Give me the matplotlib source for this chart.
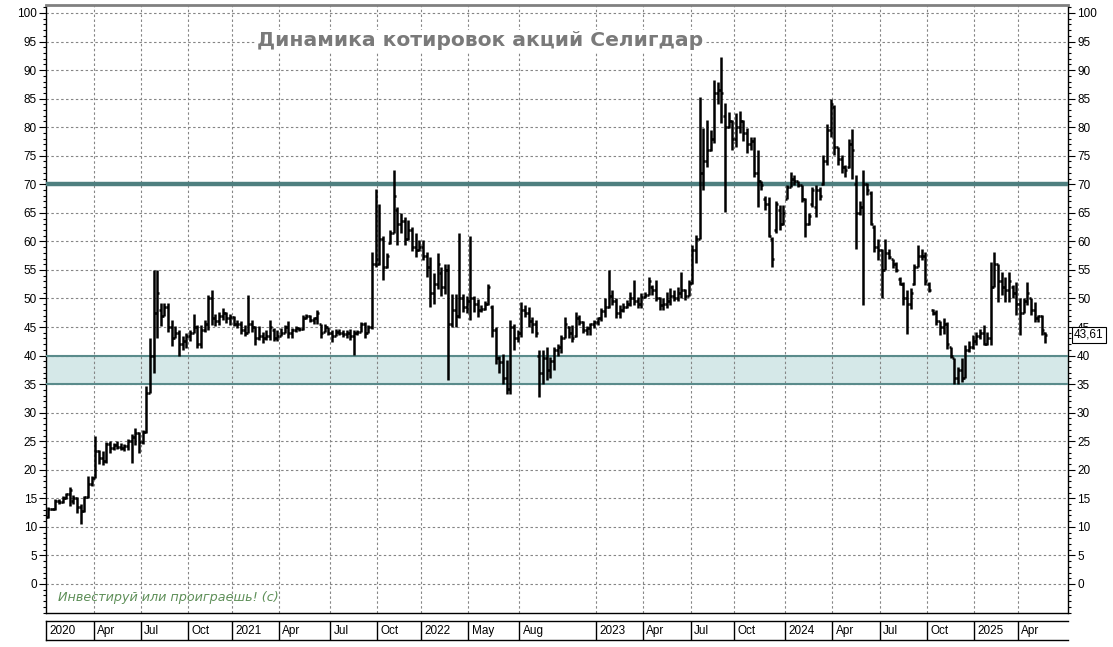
import matplotlib
matplotlib.use('Agg')
import matplotlib.pyplot as plt
import matplotlib.transforms as mtransforms
from matplotlib.ticker import MultipleLocator
import numpy as np

# Недельные бары (open, high, low, close), янв 2020 - апр 2025
opens = [
    11.8, 13.2, 13.1, 14.6, 14.3, 15.1, 15.8, 14.5, 15.0, 13.5, 12.8, 15.2, 17.5,
    18.6, 23.3, 22.0, 21.6, 24.5, 23.8, 24.3, 24.0, 23.8, 24.2, 25.0, 25.8, 26.5,
    24.8, 26.6, 33.5, 40.0, 47.5, 48.0, 47.0, 48.5, 45.0, 43.0, 44.0, 42.0, 42.5,
    43.5, 44.0, 45.0, 42.0, 44.5, 45.5, 50.0, 46.5, 46.0, 47.0, 47.5, 46.5, 46.8,
    45.5, 45.5, 44.5, 44.0, 45.5, 45.0, 43.0, 43.5, 43.0, 43.5, 44.5, 43.0, 43.5,
    44.0, 45.0, 44.0, 44.5, 44.8, 44.6, 46.5, 47.0, 46.2, 46.5, 45.5, 44.2, 45.0,
    44.0, 43.5, 44.2, 44.0, 43.8, 44.0, 43.5, 44.0, 44.2, 45.5, 44.0, 45.0, 56.0,
    56.0, 60.5, 55.5, 59.8, 61.5, 65.5, 63.0, 63.5, 60.5, 62.0, 59.0, 58.5, 59.0,
    57.5, 55.5, 51.0, 52.5, 54.5, 52.0, 55.0, 45.5, 48.0, 47.0, 50.0, 48.5, 49.5,
    50.0, 49.0, 48.0, 48.2, 49.0, 48.5, 44.5, 39.5, 38.8, 36.0, 34.2, 45.0, 43.0,
    44.0, 48.0, 47.5, 46.0, 45.5, 40.0, 37.0, 39.5, 37.5, 39.0, 41.0, 41.5, 43.0,
    45.0, 44.0, 43.5, 46.5, 45.8, 44.5, 44.8, 45.5, 45.8, 46.5, 47.8, 48.5, 50.5,
    49.5, 47.5, 48.0, 48.5, 49.0, 50.0, 49.5, 49.0, 50.3, 50.6, 52.0, 51.5, 50.0,
    48.8, 49.0, 49.5, 50.5, 50.0, 51.0, 51.5, 50.5, 52.8, 58.5, 60.5, 72.0, 74.0,
    76.0, 78.0, 86.0, 86.5, 82.0, 80.0, 81.0, 78.0, 80.0, 81.0, 79.0, 77.0, 77.5,
    72.0, 70.5, 67.5, 66.5, 60.5, 62.0, 65.5, 63.0, 67.5, 69.5, 71.0, 70.5, 69.8,
    67.5, 63.0, 66.5, 66.0, 69.0, 70.0, 74.0, 79.5, 83.5, 76.5, 74.5, 73.0, 73.0,
    77.0, 70.0, 65.0, 66.0, 70.0, 68.5, 62.5, 59.0, 58.5, 55.0, 58.0, 57.0, 56.0,
    53.5, 52.5, 50.0, 49.0, 52.5, 55.5, 57.5, 57.5, 52.5, 48.0, 47.5, 46.0, 45.0,
    45.5, 41.5, 39.5, 36.0, 37.5, 36.0, 41.0, 41.5, 42.5, 43.5, 44.0, 42.0, 43.0,
    52.0, 56.0, 53.0, 52.0, 51.5, 52.0, 51.0, 49.0, 47.5, 49.5, 50.0, 48.0, 46.5,
    47.0, 44.0,
]
highs = [
    13.4, 13.3, 14.8, 14.9, 15.4, 16.0, 16.9, 15.6, 15.2, 14.0, 15.4, 19.0, 18.9,
    25.9, 23.5, 23.3, 24.8, 25.0, 24.7, 25.0, 24.7, 24.5, 25.4, 26.3, 27.3, 26.6,
    26.9, 34.6, 43.1, 55.0, 55.0, 49.2, 49.2, 49.2, 46.3, 45.1, 44.5, 43.4, 44.0,
    44.5, 47.2, 45.4, 45.4, 46.3, 50.6, 51.5, 47.2, 47.7, 48.3, 47.7, 47.2, 46.9,
    46.3, 46.0, 45.4, 50.6, 46.3, 45.1, 45.1, 44.2, 44.5, 46.3, 44.8, 44.5, 44.8,
    45.4, 46.0, 44.8, 45.1, 45.0, 47.1, 47.3, 47.1, 46.8, 47.9, 45.6, 45.6, 45.0,
    44.4, 44.7, 44.7, 44.4, 44.4, 44.7, 44.4, 44.4, 45.9, 45.9, 45.3, 58.2, 69.2,
    66.6, 61.0, 58.0, 62.0, 72.5, 66.0, 65.0, 64.3, 63.7, 62.5, 61.4, 60.3, 60.3,
    58.1, 57.3, 54.4, 57.9, 55.5, 56.0, 56.0, 50.8, 50.8, 61.4, 50.8, 50.5, 61.0,
    50.5, 49.9, 48.8, 49.5, 52.6, 48.8, 45.0, 40.0, 40.3, 39.2, 46.2, 45.6, 44.5,
    49.4, 48.8, 48.5, 46.8, 46.2, 40.9, 40.9, 41.5, 39.8, 41.5, 42.0, 43.6, 46.8,
    45.1, 45.4, 47.7, 47.1, 46.0, 45.1, 45.7, 46.2, 46.8, 48.3, 50.0, 55.0, 51.5,
    50.0, 48.9, 49.2, 49.7, 51.2, 53.2, 50.3, 50.9, 51.2, 53.8, 52.4, 53.2, 50.3,
    50.0, 51.2, 51.8, 51.5, 52.1, 54.7, 51.6, 53.2, 59.4, 61.1, 85.3, 79.8, 81.2,
    79.5, 88.2, 88.0, 92.3, 84.2, 82.7, 81.2, 82.4, 82.9, 81.3, 79.8, 78.3, 78.3,
    76.0, 70.5, 68.0, 67.8, 60.8, 67.0, 66.4, 66.4, 69.9, 72.2, 71.6, 70.6, 69.8,
    67.6, 65.0, 69.6, 69.8, 69.5, 75.1, 80.6, 85.0, 83.8, 76.5, 75.1, 73.3, 78.0,
    79.7, 71.6, 67.0, 72.5, 70.2, 68.9, 62.8, 60.5, 58.7, 60.5, 58.7, 57.0, 56.4,
    53.8, 52.9, 51.5, 51.8, 56.1, 59.3, 58.7, 58.1, 52.9, 48.2, 47.9, 46.1, 46.5,
    45.9, 41.5, 39.5, 38.0, 39.5, 41.8, 42.5, 43.6, 44.1, 44.7, 45.3, 44.1, 56.4,
    58.1, 56.0, 54.6, 53.8, 54.6, 52.3, 52.9, 50.0, 50.0, 52.9, 50.0, 49.4, 47.1,
    47.1, 44.2,
]
lows = [
    11.6, 12.9, 13.0, 14.0, 14.2, 14.8, 13.7, 14.0, 12.5, 10.5, 12.6, 15.1, 17.2,
    18.5, 21.0, 20.9, 21.2, 23.0, 23.4, 23.6, 23.5, 23.3, 23.5, 21.2, 24.4, 23.0,
    24.6, 26.5, 33.5, 37.0, 43.1, 45.1, 47.0, 44.2, 41.6, 43.0, 39.9, 41.0, 41.3,
    42.5, 44.0, 41.3, 41.3, 44.2, 44.5, 45.4, 45.1, 45.4, 46.3, 45.7, 45.4, 45.1,
    44.8, 43.7, 43.4, 43.9, 44.2, 41.9, 42.8, 42.2, 42.8, 42.8, 42.5, 42.5, 43.4,
    43.9, 43.1, 43.1, 44.2, 44.3, 44.5, 46.4, 45.9, 45.6, 45.6, 43.0, 44.1, 43.6,
    42.4, 43.4, 43.6, 43.3, 43.0, 42.7, 40.1, 43.6, 44.1, 43.0, 44.0, 44.7, 55.5,
    55.8, 53.2, 55.4, 59.6, 61.5, 59.3, 61.5, 59.3, 60.3, 58.3, 57.3, 58.4, 56.8,
    53.8, 48.5, 49.0, 51.6, 50.5, 50.8, 35.7, 45.0, 45.0, 46.5, 47.7, 47.5, 46.2,
    47.7, 46.8, 47.7, 48.0, 48.8, 43.3, 38.6, 37.0, 35.0, 33.3, 33.3, 41.0, 42.3,
    43.3, 46.8, 45.0, 44.0, 43.3, 32.8, 35.0, 35.7, 36.0, 37.5, 40.0, 40.5, 43.0,
    43.0, 42.4, 43.3, 45.4, 43.9, 43.6, 43.6, 44.8, 45.4, 46.0, 46.8, 48.3, 48.9,
    46.5, 46.5, 47.7, 48.3, 48.6, 48.9, 48.3, 48.3, 50.0, 50.6, 50.6, 49.5, 48.0,
    48.0, 48.3, 48.9, 49.5, 49.5, 50.0, 49.7, 50.4, 52.5, 56.2, 60.5, 69.0, 73.1,
    75.8, 77.2, 84.0, 80.7, 65.2, 79.8, 76.0, 76.5, 79.0, 77.5, 75.5, 76.0, 71.3,
    66.0, 69.0, 65.5, 60.8, 55.6, 61.5, 62.0, 62.8, 67.5, 69.5, 69.9, 69.6, 66.9,
    60.8, 62.8, 66.0, 64.3, 67.2, 69.8, 73.3, 78.3, 75.1, 73.3, 71.9, 71.3, 72.8,
    71.0, 58.7, 64.6, 48.8, 68.1, 62.8, 58.1, 56.7, 50.0, 55.0, 57.0, 55.3, 54.6,
    52.3, 48.8, 43.8, 48.2, 52.3, 55.5, 56.7, 52.3, 51.1, 47.1, 45.3, 43.6, 43.8,
    41.2, 39.5, 35.1, 35.1, 35.4, 36.0, 40.6, 41.2, 41.8, 42.9, 41.8, 41.8, 41.8,
    52.0, 49.4, 50.6, 49.4, 49.4, 50.0, 47.1, 43.6, 47.5, 48.8, 47.1, 45.9, 45.9,
    43.6, 42.2,
]
closes = [
    13.2, 13.1, 14.6, 14.3, 15.1, 15.8, 16.5, 15.0, 13.5, 12.8, 15.2, 17.5, 18.6,
    23.3, 22.0, 21.6, 24.5, 23.8, 24.3, 24.0, 23.8, 24.2, 25.0, 25.8, 26.5, 24.8,
    26.6, 33.5, 40.0, 47.5, 51.0, 47.0, 48.5, 45.0, 43.0, 44.0, 42.0, 42.5, 43.5,
    44.0, 45.0, 42.0, 44.5, 45.5, 50.0, 46.5, 46.0, 47.0, 47.5, 46.5, 46.8, 45.5,
    45.5, 44.5, 44.0, 45.5, 45.0, 43.0, 43.5, 43.0, 43.5, 45.0, 43.0, 43.5, 44.0,
    45.0, 44.0, 44.5, 44.8, 44.6, 46.5, 47.0, 46.2, 46.5, 47.5, 44.0, 45.0, 44.0,
    43.5, 44.2, 44.0, 43.8, 44.0, 43.5, 44.0, 44.2, 45.5, 44.0, 45.0, 56.0, 57.0,
    60.5, 55.5, 57.5, 61.5, 68.0, 63.0, 63.5, 60.5, 62.0, 59.0, 58.5, 59.0, 57.5,
    55.5, 51.0, 52.5, 56.0, 52.0, 55.0, 45.5, 48.0, 47.0, 50.0, 48.5, 49.5, 50.0,
    49.0, 48.0, 48.2, 49.0, 52.0, 44.5, 39.5, 38.8, 36.0, 34.2, 45.0, 43.0, 44.0,
    48.0, 47.5, 46.0, 45.5, 44.0, 37.0, 39.5, 37.5, 39.0, 41.0, 41.5, 43.0, 45.5,
    44.0, 43.0, 46.5, 45.8, 44.5, 44.8, 45.5, 45.8, 46.5, 47.8, 48.5, 50.5, 49.5,
    47.5, 48.0, 48.5, 49.0, 50.0, 49.5, 49.0, 50.3, 50.6, 53.0, 51.5, 50.0, 48.8,
    49.0, 49.5, 50.5, 50.0, 51.0, 51.5, 50.5, 52.8, 58.5, 60.5, 72.0, 74.0, 76.0,
    78.0, 86.0, 86.5, 86.0, 80.0, 81.0, 78.0, 80.0, 81.0, 79.0, 77.0, 77.5, 72.0,
    70.5, 69.8, 66.5, 61.0, 57.0, 66.5, 63.0, 65.0, 69.5, 71.0, 70.5, 69.8, 67.5,
    63.0, 64.5, 69.0, 69.0, 68.0, 74.0, 79.5, 84.0, 76.5, 74.5, 73.0, 72.5, 77.0,
    76.0, 65.0, 66.0, 70.0, 69.0, 63.0, 59.0, 58.5, 55.0, 58.0, 57.3, 56.0, 55.0,
    52.5, 50.0, 49.0, 51.0, 55.5, 57.5, 57.5, 53.0, 51.5, 47.5, 46.0, 45.0, 45.5,
    42.0, 40.0, 36.0, 37.5, 36.0, 41.0, 41.5, 42.5, 43.5, 44.0, 42.0, 43.0, 52.0,
    56.0, 53.0, 52.0, 51.5, 53.0, 51.0, 49.0, 47.5, 49.5, 51.0, 48.0, 46.5, 47.0,
    44.5, 43.61,
]
assert len(opens) == len(highs) == len(lows) == len(closes)

# подписи оси времени и номер недели, с которой они начинаются
date_labels = ['2020', 'Apr', 'Jul', 'Oct', '2021', 'Apr', 'Jul', 'Oct',
               '2022', 'May', 'Aug', '2023', 'Apr', 'Jul', 'Oct',
               '2024', 'Apr', 'Jul', 'Oct', '2025', 'Apr']
date_weeks = [0, 13, 26, 39, 51, 64, 78, 91, 103, 116, 130, 151, 164, 177,
              189, 203, 216, 229, 242, 255, 267]

resistance = 70
support_zone = (35, 40)
last_price = 43.61

W, H = 1113, 647
fig = plt.figure(figsize=(W / 100, H / 100), dpi=100)
fig.patch.set_facecolor('white')
ax = fig.add_axes([46 / W, (H - 613) / H, 1022 / W, 608 / H])

x = np.arange(len(closes))
xlim = (-0.55, 280.2)
ax.set_xlim(*xlim)
ax.set_ylim(-5.08, 101.4)

# сетка
grid_kw = dict(color='#858585', lw=0.8, ls=(0, (2.2, 2.2)), zorder=2)
for v in range(0, 101, 5):
    ax.axhline(v, **grid_kw)
for w in date_weeks[1:]:
    ax.axvline(w - 0.5, **grid_kw)

# зона поддержки и уровень сопротивления
ax.axhspan(*support_zone, facecolor='#d5e8e8', edgecolor='none', zorder=1)
for v in support_zone:
    ax.axhline(v, color='#5a8b8b', lw=1.5, zorder=3)
ax.axhline(resistance, color='#4e7f7f', lw=3.2, zorder=3)

# бары OHLC
bar_kw = dict(color='black', lw=1.8, zorder=5)
ax.vlines(x, lows, highs, **bar_kw)
ax.hlines(opens, x - 0.55, x, **bar_kw)
ax.hlines(closes, x, x + 0.55, **bar_kw)

# оси
ax.set_xticks([])
ax.set_yticks(range(0, 101, 5))
ax.yaxis.set_minor_locator(MultipleLocator(1))
ax.tick_params(axis='y', which='both', left=True, right=True,
               labelleft=True, labelright=True, direction='out',
               labelsize=8.5, pad=1.5)
ax.tick_params(axis='y', which='major', length=5, width=0.8)
ax.tick_params(axis='y', which='minor', length=2.5, width=0.8)
for lab in ax.get_yticklabels():
    lab.set_family('Liberation Sans')
ax.spines['top'].set_color('#808080')
ax.spines['top'].set_linewidth(2)
for s in ['left', 'right', 'bottom']:
    ax.spines[s].set_color('black')
    ax.spines[s].set_linewidth(1)

# последняя цена (в оригинале плашка частично закрывает подпись 45)
trans = mtransforms.blended_transform_factory(ax.transAxes, ax.transData)
ax.text(1.006, last_price, '43,61', transform=trans, ha='left', va='center',
        fontsize=8.5, family='Liberation Sans', clip_on=False, zorder=10,
        bbox=dict(boxstyle='square,pad=0.2', fc='white', ec='black', lw=0.8))

# полоса с датами
ax2 = fig.add_axes([46 / W, (H - 640) / H, 1022 / W, 19 / H])
ax2.set_xlim(*xlim)
ax2.set_ylim(0, 1)
ax2.set_xticks([])
ax2.set_yticks([])
ax2.spines['right'].set_visible(False)
for s in ['top', 'bottom', 'left']:
    ax2.spines[s].set_linewidth(1)
for lab, w in zip(date_labels, date_weeks):
    if w > 0:
        ax2.axvline(w - 0.5, color='black', lw=1)
    ax2.text(w + 0.4, 0.45, lab, ha='left', va='center', fontsize=8.5,
             family='Liberation Sans')

# заголовок и подпись
fig.text(480 / W, 1 - 41 / H, 'Динамика котировок акций Селигдар',
         ha='center', va='center', fontsize=14.6, fontweight='bold',
         color='#7a7a7a', bbox=dict(fc='white', ec='none', pad=1))
fig.text(58 / W, 1 - 598 / H, 'Инвестируй или проиграешь! (c)',
         ha='left', va='center', fontsize=9.2, style='italic', color='#5e8f58')

fig.savefig('out.png', dpi=100, facecolor='white')
